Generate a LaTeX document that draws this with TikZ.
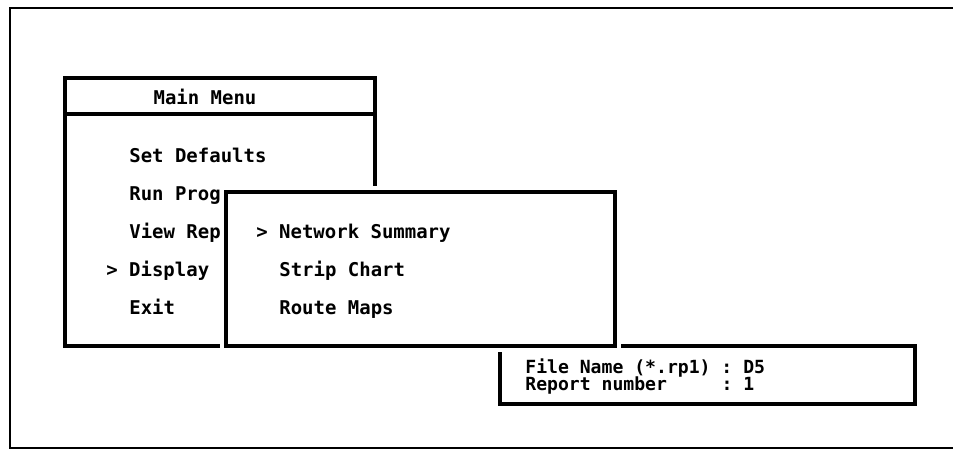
\documentclass[tikz,border=0pt]{standalone}
\usepackage{fontspec}
\setmonofont{DejaVu Sans Mono}
\usepackage{tikz}

\begin{document}
\begin{tikzpicture}[
		box/.style={rectangle, draw, line width=2pt, inner sep=0pt},
		popup/.style={box, fill=white, preaction={draw=white, line width=7pt}},
		item/.style={anchor=base west, inner sep=0pt, font=\ttfamily\bfseries\fontsize{10.8}{12}\selectfont},
		field/.style={anchor=base west, inner sep=0pt, font=\ttfamily\bfseries\fontsize{10.3}{12}\selectfont}
	]
  \useasboundingbox (0cm, 0cm) rectangle (19.06cm, -9.02cm);
  \draw [line width=1.3pt] (19.06cm, -0.16cm) -- (0.2cm, -0.16cm) -- (0.2cm, -8.96cm) -- (19.06cm, -8.96cm);

  % report box (behind)
  \node (report) [box, minimum width=8.3cm, minimum height=1.16cm] at (14.15cm, -7.5cm) {};
  \node (file_name) [field] at (10.5cm, -7.46cm) {File Name (*.rp1) : D5};
  \node (report_no) [field] at (10.5cm, -7.8cm) {Report number\hphantom{00000}: 1};

  % main menu
  \node (main) [box, minimum width=6.2cm, minimum height=5.36cm] at (4.4cm, -4.24cm) {};
  \draw [line width=2pt] ([yshift=-0.76cm]main.north west) -- ([yshift=-0.76cm]main.north east);
  \node (main_title) [item, anchor=base] at (4.1cm, -2.08cm) {Main Menu};
  \node (set_def) [item] at (2.58cm, -3.24cm) {Set Defaults};
  \node (run_prog) [item] at (2.58cm, -4cm) {Run Prog};
  \node (view_rep) [item] at (2.58cm, -4.76cm) {View Rep};
  \node (display) [item] at (2.12cm, -5.52cm) {> Display};
  \node (exit) [item] at (2.58cm, -6.28cm) {Exit};

  % display submenu
  \node (sub) [popup, minimum width=7.78cm, minimum height=3.08cm] at (8.41cm, -5.38cm) {};
  \node (net_sum) [item] at (5.12cm, -4.76cm) {> Network Summary};
  \node (strip) [item] at (5.58cm, -5.52cm) {Strip Chart};
  \node (route) [item] at (5.58cm, -6.28cm) {Route Maps};
\end{tikzpicture}
\end{document}
